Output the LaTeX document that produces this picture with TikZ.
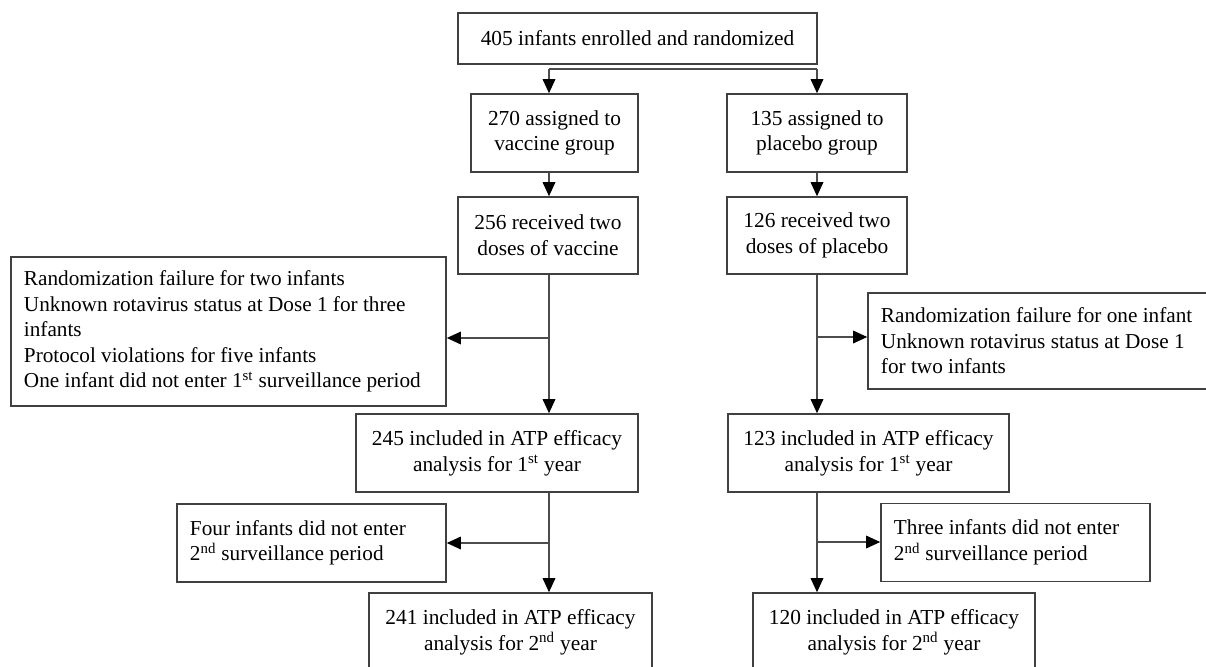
\documentclass[tikz,border=0pt]{standalone}
\usepackage{fontspec}
\setmainfont{Liberation Serif}
\usetikzlibrary{arrows.meta,positioning,calc}

\begin{document}
\begin{tikzpicture}[
  x=0.025cm, y=-0.025cm,
  font=\fontsize{15.2}{18.3}\selectfont,
  box/.style={draw=black!75,line width=1.1pt,fill=white,inner sep=0pt,align=center,minimum height=1.95cm},
  note/.style={draw=black!75,line width=1.1pt,fill=white,inner xsep=0.325cm,inner ysep=0pt,
    align=flush left,minimum height=1.95cm,font=\fontsize{15.1}{18.1}\selectfont},
  link/.style={line width=0.9pt,draw=black!70},
  arr/.style={link,-{Triangle[length=10pt,width=9pt,color=black]}}
]
\useasboundingbox (0,0) rectangle (1206,666);
\fill[white] (0,0) rectangle (1206,666);
\clip (0,0) rectangle (1206,666);

% ---- enrolment ----
\node[box,minimum width=8.975cm,minimum height=1.275cm] (enrol) at (637.5,38.5)
  {405 infants enrolled and randomized};
\coordinate (colV) at (549,69);
\coordinate (colP) at (817,69);

% ---- vaccine arm ----
\node[box,minimum width=4.175cm] (vac1) at (554.5,133) {270 assigned to\\ vaccine group};
\node[box,minimum width=4.5cm,minimum height=1.925cm] (vac2) at (548,235.5) {256 received two\\ doses of vaccine};
\node[box,minimum width=7.05cm] (vac3) at (497,453) {245 included in ATP efficacy\\ analysis for 1\textsuperscript{st} year};
\node[box,minimum width=7.075cm] (vac4) at (510.5,632) {241 included in ATP efficacy\\ analysis for 2\textsuperscript{nd} year};

% ---- placebo arm ----
\node[box,minimum width=4.5cm] (pla1) at (817,133) {135 assigned to\\ placebo group};
\node[box,minimum width=4.5cm,minimum height=1.925cm] (pla2) at (817,235.5) {126 received two\\ doses of placebo};
\node[box,minimum width=7.025cm] (pla3) at (868.5,453) {123 included in ATP efficacy\\ analysis for 1\textsuperscript{st} year};
\node[box,minimum width=7.05cm] (pla4) at (894,632) {120 included in ATP efficacy\\ analysis for 2\textsuperscript{nd} year};

% ---- exclusions ----
\node[note,text width=10.225cm,minimum height=3.725cm] (exV1) at (228.5,331.5)
  {Randomization failure for two infants\\
   Unknown rotavirus status at Dose 1 for three\\
   infants\\
   Protocol violations for five infants\\
   One infant did not enter 1\textsuperscript{st} surveillance period};
\node[note,text width=7.95cm,minimum height=2.4cm] (exP1) at (1040,341)
  {Randomization failure for one infant\\
   Unknown rotavirus status at Dose 1\\
   for two infants};
\node[note,text width=6.075cm] (exV2) at (311.5,543)
  {Four infants did not enter\\ 2\textsuperscript{nd} surveillance period};
\node[note,text width=6.075cm] (exP2) at (1015.5,542.5)
  {Three infants did not enter\\ 2\textsuperscript{nd} surveillance period};

% ---- split after randomization ----
\draw[link] (colV) -- (colP);
\draw[arr] (colV) -- (colV |- vac1.north);
\draw[arr] (colP) -- (colP |- pla1.north);

% ---- main flow ----
\draw[arr] (colV |- vac1.south) -- (colV |- vac2.north);
\draw[arr] (colV |- vac2.south) -- (colV |- vac3.north);
\draw[arr] (colV |- vac3.south) -- (colV |- vac4.north);
\draw[arr] (colP |- pla1.south) -- (colP |- pla2.north);
\draw[arr] (colP |- pla2.south) -- (colP |- pla3.north);
\draw[arr] (colP |- pla3.south) -- (colP |- pla4.north);

% ---- side exits ----
\coordinate (kV1) at (549,338);
\coordinate (kP1) at (817,337);
\coordinate (kV2) at (549,543);
\coordinate (kP2) at (817,542);
\draw[arr] (kV1) -- (kV1 -| exV1.east);
\draw[arr] (kP1) -- (kP1 -| exP1.west);
\draw[arr] (kV2) -- (kV2 -| exV2.east);
\draw[arr] (kP2) -- (kP2 -| exP2.west);

\end{tikzpicture}
\end{document}
